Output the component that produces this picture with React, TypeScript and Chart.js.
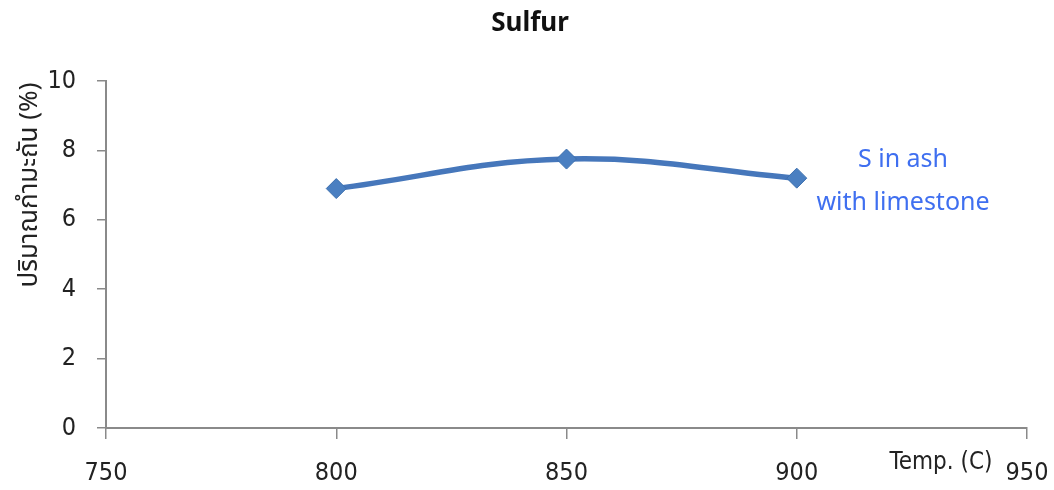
import React, { useEffect, useRef } from "react";
import { Chart, registerables } from "chart.js";

Chart.register(...registerables);

// Temperatures (°C) and sulfur content in ash (%)
const temperatures = [800, 850, 900];
const sulfurInAsh = [6.9, 7.75, 7.2];
const xTicks = [750, 800, 850, 900, 950];
const yTicks = [0, 2, 4, 6, 8, 10];

const chartTitle = "Sulfur";
const yAxisTitle = "ปริมาณกำมะถัน (%)";
const xAxisTitle = "Temp. (C)";
const seriesLabel = ["S in ash", "with limestone"];

const LINE_BLUE = "#4677bb";
const LABEL_BLUE = "#3f6ff0";
const AXIS_GREY = "#8a8a8a";
const TICK_FONT = "'Liberation Sans Narrow', 'DejaVu Sans Condensed', sans-serif";
const TEXT_FONT = "'Noto Sans', 'Noto Sans Thai', sans-serif";

const annotations = {
  id: "annotations",
  afterDraw(chart: any) {
    const ctx = chart.ctx;
    ctx.save();
    // Title
    ctx.fillStyle = "#111";
    ctx.font = `bold 26px ${TEXT_FONT}`;
    ctx.textAlign = "center";
    ctx.textBaseline = "middle";
    ctx.fillText(chartTitle, 530, 24);

    // Rotated y-axis title
    ctx.save();
    ctx.translate(30, 185);
    ctx.rotate(-Math.PI / 2);
    ctx.font = `26px ${TEXT_FONT}`;
    ctx.fillStyle = "#222";
    ctx.fillText(yAxisTitle, 0, 0);
    ctx.restore();

    // x-axis title
    ctx.font = `24px ${TICK_FONT}`;
    ctx.fillStyle = "#222";
    ctx.fillText(xAxisTitle, 941, 463);

    // Series label
    ctx.font = `25px ${TEXT_FONT}`;
    ctx.fillStyle = LABEL_BLUE;
    ctx.fillText(seriesLabel[0], 903, 160);
    ctx.fillText(seriesLabel[1], 903, 203);
    ctx.restore();
  },
};

export default function App() {
  const canvasRef = useRef<HTMLCanvasElement | null>(null);

  useEffect(() => {
    document.body.style.margin = "0";
    const canvas = canvasRef.current;
    if (!canvas) return;
    const chart = new Chart(canvas, {
      type: "line",
      data: {
        datasets: [
          {
            data: temperatures.map((t, i) => ({ x: t, y: sulfurInAsh[i] })),
            borderColor: LINE_BLUE,
            backgroundColor: LINE_BLUE,
            borderWidth: 5.5,
            tension: 0.4,
            pointStyle: "rectRot",
            pointRadius: 10,
            pointBorderColor: "#3c6fae",
            pointBackgroundColor: "#4a7fc1",
            pointBorderWidth: 1,
          },
        ],
      },
      options: {
        responsive: false,
        animation: false,
        layout: { padding: { top: 81, right: 27, left: 0, bottom: 0 } },
        plugins: {
          legend: { display: false },
          title: { display: false },
          tooltip: { enabled: false },
        },
        scales: {
          x: {
            type: "linear",
            min: 750,
            max: 950,
            afterBuildTicks: (axis: any) => {
              axis.ticks = xTicks.map((v) => ({ value: v }));
            },
            afterFit: (axis: any) => {
              axis.height = 62;
              axis.paddingRight = 0;
              axis.paddingLeft = 0;
            },
            grid: {
              drawOnChartArea: false,
              drawTicks: true,
              tickLength: 11,
              color: AXIS_GREY,
              lineWidth: 1.5,
            },
            border: { color: AXIS_GREY, width: 2 },
            ticks: {
              padding: 19,
              color: "#222",
              font: { family: TICK_FONT, size: 25 },
              maxRotation: 0,
            },
          },
          y: {
            min: 0,
            max: 10,
            afterBuildTicks: (axis: any) => {
              axis.ticks = yTicks.map((v) => ({ value: v }));
            },
            afterFit: (axis: any) => {
              axis.width = 106;
              axis.paddingTop = 0;
              axis.paddingBottom = 0;
            },
            grid: {
              drawOnChartArea: false,
              drawTicks: true,
              tickLength: 9,
              color: AXIS_GREY,
              lineWidth: 1.5,
            },
            border: { color: AXIS_GREY, width: 2 },
            ticks: {
              padding: 21,
              color: "#222",
              font: { family: TICK_FONT, size: 25 },
            },
          },
        },
      },
      plugins: [annotations],
    });
    return () => chart.destroy();
  }, []);

  return (
    <div style={{ position: "relative", width: 1054, height: 490 }}>
      <canvas ref={canvasRef} width={1054} height={490} />
    </div>
  );
}
